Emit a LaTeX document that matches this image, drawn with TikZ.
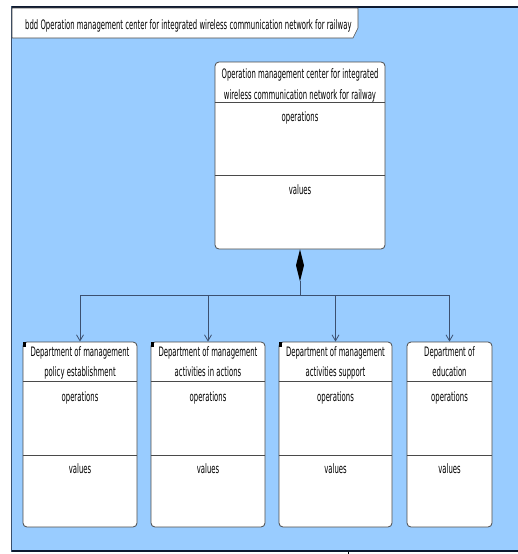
\documentclass[tikz,border=0pt]{standalone}
\usepackage{fontspec}
\setmainfont{DejaVu Sans}[FakeStretch=0.53]
\usetikzlibrary{arrows.meta}

\definecolor{frameblue}{HTML}{99CCFF}
\definecolor{frameedge}{HTML}{0E1A30}
\definecolor{boxedge}{HTML}{4A4A4A}
\definecolor{linkcol}{HTML}{3C5070}
\newcommand\umlfont{\fontsize{13}{15}\selectfont}

\tikzset{
  block/.style={draw=boxedge, fill=white, rounded corners=4pt, line width=0.8pt, inner sep=0pt},
  lbl/.style={anchor=base, inner sep=0pt, font=\umlfont},
  divider/.style={draw=boxedge, line width=0.8pt},
  conn/.style={draw=linkcol, line width=0.8pt},
  gen/.style={conn, -{Straight Barb[length=6pt,width=7pt]}},
  cornermark/.style={fill=black},
}

\begin{document}
\begin{tikzpicture}[x=1pt, y=-1pt]
\useasboundingbox (0,0) rectangle (518,554);

% diagram frame
\fill[frameblue] (11,7) rectangle (518,551);
\draw[frameedge, line width=2pt] (11,7) -- (518,7);
\draw[frameedge, line width=2pt] (11,551) -- (518,551);
\draw[frameedge!70!frameblue, line width=1.2pt] (11.5,6) -- (11.5,552);
\draw[black] (348.5,552) -- (348.5,554);

% frame name tab
\filldraw[fill=white, draw=boxedge, line width=0.6pt]
  (12,8) -- (358,8) -- (358,28) -- (353,38) -- (12,38) -- cycle;
\node[lbl, anchor=base west] (title) at (25,29)
  {bdd Operation management center for integrated wireless communication network for railway};

% top block
\node[block, minimum width=170pt, minimum height=187pt] (top) at (300,155.5) {};
\draw[divider] ([yshift=-41pt]top.north west) -- ([yshift=-41pt]top.north east);
\draw[divider] ([yshift=-114pt]top.north west) -- ([yshift=-114pt]top.north east);
\node[lbl] (topA) at ([yshift=-17pt]top.north) {Operation management center for integrated};
\node[lbl] (topB) at ([yshift=-38pt]top.north) {wireless communication network for railway};
\node[lbl] (topOps) at ([yshift=-60pt]top.north) {operations};
\node[lbl] (topVal) at ([yshift=-133pt]top.north) {values};

% bottom blocks
\node[block, minimum width=114pt, minimum height=185pt] (b1) at (80,434.5) {};
\node[block, minimum width=114pt, minimum height=185pt] (b2) at (208,434.5) {};
\node[block, minimum width=113pt, minimum height=185pt] (b3) at (335.5,434.5) {};
\node[block, minimum width=85pt, minimum height=185pt] (b4) at (449.5,434.5) {};

\foreach \b in {b1,b2,b3,b4} {
  \draw[divider] ([yshift=-40pt]\b.north west) -- ([yshift=-40pt]\b.north east);
  \draw[divider] ([yshift=-114pt]\b.north west) -- ([yshift=-114pt]\b.north east);
  \node[lbl] (\b ops) at ([yshift=-60pt]\b.north) {operations};
  \node[lbl] (\b val) at ([yshift=-132pt]\b.north) {values};
}
\foreach \b in {b1,b2,b3} {
  \fill[cornermark] ([shift={(0.6pt,-0.6pt)}]\b.north west) rectangle ++(3,5);
}

\node[lbl] (b1A) at ([yshift=-15pt]b1.north) {Department of management};
\node[lbl] (b1B) at ([yshift=-35pt]b1.north) {policy establishment};
\node[lbl] (b2A) at ([yshift=-15pt]b2.north) {Department of management};
\node[lbl] (b2B) at ([yshift=-35pt]b2.north) {activities in actions};
\node[lbl] (b3A) at ([yshift=-15pt]b3.north) {Department of management};
\node[lbl] (b3B) at ([yshift=-35pt]b3.north) {activities support};
\node[lbl] (b4A) at ([yshift=-15pt]b4.north) {Department of};
\node[lbl] (b4B) at ([yshift=-35pt]b4.north) {education};

% composition: diamond and tree of links
\fill[black] (top.south) -- ++(4,16) -- ++(-4,16) -- ++(-4,-16) -- cycle;
\coordinate (diaB) at ([yshift=-32pt]top.south);
\coordinate (busM) at (300,295);
\coordinate (busL) at (b1.north |- busM);
\coordinate (busR) at (b4.north |- busM);
\draw[conn] (diaB) -- (busM);
\draw[conn] (busL) -- (busR);
\draw[gen] (busL) -- (b1.north);
\draw[gen] (b2.north |- busM) -- (b2.north);
\draw[gen] (b3.north |- busM) -- (b3.north);
\draw[gen] (busR) -- (b4.north);
\end{tikzpicture}
\end{document}
